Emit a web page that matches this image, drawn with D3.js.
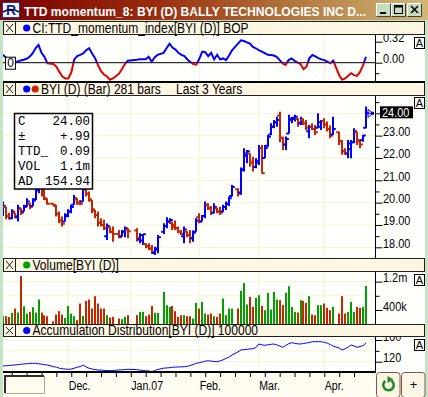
<!DOCTYPE html>
<html>
<head>
<meta charset="utf-8">
<script src="https://cdnjs.cloudflare.com/ajax/libs/d3/7.8.5/d3.min.js"></script>
<style>
  html, body { margin: 0; padding: 0; background: #c6e2c6; }
  svg { display: block; }
  text { font-family: "Liberation Sans", Arial, sans-serif; }
</style>
</head>
<body>
<svg width="428" height="397"></svg>
<script>
// ---- data (one value per trading day) ----
const startDate = "2006-11-01";
const endDate = "2007-04-20";
const holidays = ["2006-11-23", "2006-12-25", "2007-01-01", "2007-01-02",
  "2007-01-15", "2007-02-19", "2007-04-06"];

const openPx = [
  19.5,19.8,19.4,19.3,19.55,19.35,19.7,19.6,19.85,19.95,19.85,20.15,20.55,20.7,20.4,20.15,
  19.95,19.85,19.5,19.2,19.15,19.45,19.6,19.9,20.15,20.0,20.05,20.6,20.4,20.1,19.65,19.45,19.1,19.0,18.5,18.9,18.7,
  18.6,18.5,18.7,18.8,
  18.75,18.35,18.3,18.15,18.05,17.95,17.75,17.9,
  18.7,18.95,19.15,19.1,19.0,18.85,18.7,18.5,18.7,18.55,18.4,18.7,19.35,19.15,19.4,19.9,19.75,19.55,19.75,19.6,19.6,19.8,19.95,20.3,
  20.6,20.45,21.5,22.1,22.2,21.8,21.6,21.8,22.45,22.0,22.55,23.05,23.4,23.6,23.9,22.9,22.6,23.1,23.7,23.75,23.75,23.55,23.7,23.55,23.2,23.4,23.3,23.35,23.4,23.65,23.5,23.3,23.05,
  23.15,22.75,22.3,22.2,22.4,22.7,23.15,22.75,22.8,23.35
];
const highPx = [
  20.05,19.8,19.55,19.7,19.55,19.9,19.75,19.9,20.2,20.0,20.2,20.72,20.87,20.72,20.6,20.2,
  19.97,19.9,19.6,19.38,19.52,19.7,19.9,20.34,20.2,20.12,20.72,20.72,20.5,20.12,19.67,19.6,19.3,19.23,19.07,18.93,18.93,
  18.78,18.78,18.93,18.85,
  18.85,18.63,18.6,18.18,18.18,18.1,18.03,18.55,
  19.08,19.35,19.3,19.15,19.2,18.93,18.78,18.93,18.72,18.78,18.75,19.3,19.53,19.45,20.05,19.97,19.85,19.97,19.78,19.82,19.9,20.05,20.27,20.79,
  20.64,21.57,22.43,22.36,22.2,22.06,21.99,22.58,22.58,22.58,23.03,23.55,23.7,23.85,24.07,22.95,22.96,23.93,23.85,23.93,23.78,23.85,23.78,23.7,23.48,23.55,23.48,24.0,23.7,23.78,23.63,23.45,23.85,
  23.18,22.8,22.43,22.8,22.8,23.33,23.18,22.8,23.03,24.3
];
const lowPx = [
  19.4,19.26,19.25,19.26,19.3,19.15,19.45,19.6,19.82,19.7,19.85,20.12,20.42,20.27,20.12,19.9,
  19.88,19.38,19.08,18.93,19.15,19.35,19.52,19.9,19.9,19.88,20.05,20.27,20.05,19.52,19.3,18.93,18.93,18.78,18.33,18.63,18.25,
  18.4,18.48,18.45,18.4,
  18.26,18.18,18.1,17.96,17.88,17.7,17.66,17.73,
  18.6,18.85,19.05,18.78,18.78,18.63,18.55,18.18,18.45,18.18,18.25,18.7,19.08,19.15,19.3,19.67,19.45,19.52,19.52,19.45,19.58,19.67,19.85,20.27,
  20.27,20.35,21.39,21.76,21.61,21.39,21.54,21.69,21.3,21.99,22.5,23.03,23.33,23.4,22.7,22.36,22.36,23.1,23.55,23.63,23.4,23.48,23.48,23.25,22.88,23.25,23.03,23.33,23.25,23.33,23.18,22.88,23.03,
  22.58,22.14,22.14,21.99,21.99,22.66,22.58,22.43,22.73,23.33
];
const closePx = [
  19.85,19.4,19.3,19.6,19.4,19.75,19.55,19.8,20.05,19.8,20.1,20.6,20.75,20.4,20.2,19.95,
  19.9,19.5,19.2,19.05,19.4,19.6,19.8,20.2,20.0,19.95,20.6,20.4,20.15,19.7,19.45,19.1,19.0,18.85,18.95,18.7,18.6,
  18.45,18.7,18.85,18.72,
  18.4,18.55,18.58,18.05,17.95,17.8,17.95,18.45,
  18.95,19.15,19.22,18.9,18.85,18.7,18.6,18.8,18.55,18.4,18.65,19.2,19.15,19.4,19.9,19.75,19.55,19.8,19.6,19.55,19.8,19.95,20.2,20.7,
  20.4,21.45,22.2,22.3,21.8,21.6,21.85,22.45,21.32,22.45,22.95,23.4,23.6,23.7,22.9,22.6,22.85,23.75,23.8,23.85,23.55,23.7,23.55,23.35,23.4,23.3,23.15,23.6,23.65,23.5,23.3,23.0,23.3,
  22.75,22.3,22.2,22.65,22.7,23.2,22.8,22.6,23.01,24.0
];
// volume in thousands of shares
const volumeK = [
  225,225,200,320,441,329,1360,507,300,347,479,329,695,329,254,225,
  80,272,366,272,178,516,300,225,113,582,235,657,695,441,789,582,441,441,254,188,207,
  160,141,207,254,
  254,347,347,225,272,516,320,320,
  911,535,488,516,366,207,254,254,225,225,160,601,441,629,300,272,300,225,207,300,723,254,441,441,
  441,939,1160,554,770,488,742,817,516,394,883,413,911,695,676,535,883,1070,488,347,329,676,657,601,789,272,254,535,535,582,460,394,488,
  300,789,300,347,629,347,488,460,488,1080
];
const ttdMomentum = [
  0.12,0.08,0.05,0.03,0.015,0.02,0.035,0.045,0.06,0.09,0.14,0.22,0.27,0.15,0.09,-0.01,
  -0.02,-0.06,-0.14,-0.21,-0.24,-0.24,-0.15,0.05,0.1,0.12,0.14,0.19,0.22,0.14,0.07,-0.04,-0.13,-0.18,-0.21,-0.26,-0.24,
  -0.17,-0.1,-0.02,0.03,
  0.045,0.052,0.052,0.052,0.09,0.015,0.08,0.12,
  0.15,0.22,0.29,0.23,0.2,0.15,0.12,0.1,0.05,0.01,-0.02,-0.03,0.06,0.17,0.16,0.1,0.15,0.05,0.12,0.05,0.065,0.04,0.11,0.19,
  0.29,0.34,0.33,0.31,0.29,0.24,0.22,0.19,0.17,0.145,0.12,0.117,0.11,0.09,0.04,-0.01,-0.035,0.04,0.065,0.03,0,-0.02,-0.1,-0.06,0.07,0.117,0.095,0.07,0.05,0.04,0.015,-0.01,0.03,
  -0.19,-0.26,-0.24,-0.2,-0.16,-0.19,-0.2,-0.14,-0.04,0.09
];
const adLine = [
  112.1,112.5,113,113.4,114,114.5,115.2,115.8,116.3,116.8,117,117,116.2,115.5,114.5,113.9,
  110.8,110,108,107,106.5,106,106.5,108,110,110.8,113.9,110.5,107.8,106.5,105.5,104.7,104.5,104,103.6,103.4,103.8,
  104.7,105,105.5,106,
  105.5,104.5,104,103.4,103,101.6,103.5,105.5,
  108,108.5,109,109.7,110,110.3,110.5,110.8,111.5,113,115,117,118.2,119.5,121,121.8,121,120.5,120,121.5,123.5,126.2,128.5,132.3,
  138,141.6,142.2,142.8,143.5,144,146,152.6,151,150.2,151,152,152.6,151,149,146.5,150,153,155,154,153,152.6,153.5,154.5,155.5,156.9,157,156.9,156.9,155.5,154.1,151.5,148.9,
  145,141.6,144,147,150.8,149,146.5,148,149.5,154.94
];

const priceTicks = [18, 19, 20, 21, 22, 23, 24];
const momentumTicks = [-0.32, 0, 0.32];
const volumeTicks = [400000, 1200000];
const adTicks = [120, 160];
const monthStarts = ["2006-12-01", "2007-01-01", "2007-02-01", "2007-03-01", "2007-04-02"];
const monthNames = ["Dec.", "Jan.07", "Feb.", "Mar.", "Apr."];

// ---- calendar: every weekday gets a slot, holidays stay empty ----
const parse = d3.timeParse("%Y-%m-%d");
const fmt = d3.timeFormat("%Y-%m-%d");
const weekdays = d3.timeDay.range(parse(startDate), d3.timeDay.offset(parse(endDate), 1))
  .filter(d => d.getDay() % 6 !== 0)
  .map(fmt);
const tradingDays = weekdays.filter(d => !holidays.includes(d));
const mondays = weekdays.filter(d => parse(d).getDay() === 1);

let bars = tradingDays.map((d, i) => ({
  date: d,
  o: openPx[i], h: highPx[i], l: lowPx[i], c: closePx[i],
  v: volumeK[i] * 1000,
  m: ttdMomentum[i],
  ad: adLine[i],
  up: i === 0 ? closePx[i] >= openPx[i] : closePx[i] >= closePx[i - 1]
}));
let last = bars[bars.length - 1];
let prev = bars[bars.length - 2];

const svg = d3.select("svg");
const W = 428, H = 397;
const plotL = 3, axisX = 375, rightR = 424;

const pMom = { head: 21, top: 35, bottom: 82 };
const pPrice = { head: 82, top: 96, bottom: 258 };
const pVol = { head: 258, top: 272, bottom: 324 };
const pAd = { head: 324, top: 337, bottom: 372 };

const BLUE = "#0000ff", RED = "#c82400", GREEN = "#00a000", GRID = "#f8f0da";

let x = d3.scalePoint().domain(weekdays).range([2.8, 366]);
let yMom = d3.scaleLinear().domain([-0.32, 0.32]).range([83.7, 41.7]);
let yPrice = d3.scaleLinear().domain([18, 24]).range([247.3, 113.3]);
let yVol = d3.scaleLinear().domain([0, 1200000]).range([324.2, 281.6]);
let yAd = d3.scaleLinear().domain([120, 160]).range([361.7, 340]);

let defs = svg.append("defs");

// the original UI font is narrow: squeeze the installed sans to match
function condense(sel, k) {
  sel.each(function () {
    let w = this.getComputedTextLength();
    d3.select(this).attr("textLength", w * k).attr("lengthAdjust", "spacingAndGlyphs");
  });
}

// ---- window frame + title bar ----
svg.append("rect").attr("width", W).attr("height", H).attr("fill", "#c6e2c6");

let grad = defs.append("linearGradient").attr("id", "titleGrad");
grad.append("stop").attr("offset", "0%").attr("stop-color", "#7c0000");
grad.append("stop").attr("offset", "35%").attr("stop-color", "#982a0c");
grad.append("stop").attr("offset", "70%").attr("stop-color", "#b47a40");
grad.append("stop").attr("offset", "100%").attr("stop-color", "#d2b878");
svg.append("rect").attr("width", W).attr("height", 20).attr("fill", "url(#titleGrad)");

// app icon
svg.append("rect").attr("x", 2.5).attr("y", 2.5).attr("width", 17).attr("height", 15)
  .attr("fill", "#f4f4ff").attr("stroke", "#2038b0");
svg.append("text").attr("x", 11).attr("y", 15).attr("text-anchor", "middle")
  .style("font-weight", "bold").style("font-size", "14px")
  .attr("fill", "#10209a").text("R");
svg.append("path").attr("d", "M3,12 Q11,7 19,12").attr("fill", "none").attr("stroke", "#000").attr("stroke-width", 1.5);

svg.append("text").attr("x", 24).attr("y", 16)
  .style("font-weight", "bold").style("font-size", "13px")
  .attr("fill", "#fff")
  .text("TTD momentum_8: BYI (D) BALLY TECHNOLOGIES INC D...")
  .call(sel => sel.attr("textLength", 342).attr("lengthAdjust", "spacingAndGlyphs"));

// window buttons
[376, 391, 407].forEach((bx, i) => {
  let g = svg.append("g").attr("transform", `translate(${bx},3)`);
  g.append("rect").attr("width", 15).attr("height", 14).attr("fill", "#c8dcc0");
  g.append("path").attr("d", "M0.5,13.5 V0.5 H14.5").attr("fill", "none").attr("stroke", "#fff");
  g.append("path").attr("d", "M0.5,13.5 H14.5 V0.5").attr("fill", "none").attr("stroke", "#404040");
  if (i === 0) g.append("rect").attr("x", 4).attr("y", 9).attr("width", 6).attr("height", 2).attr("fill", "#000");
  if (i === 1) {
    g.append("rect").attr("x", 3.5).attr("y", 2.5).attr("width", 8).attr("height", 8).attr("fill", "none").attr("stroke", "#000");
    g.append("rect").attr("x", 3.5).attr("y", 2.5).attr("width", 8).attr("height", 2).attr("fill", "#000");
  }
  if (i === 2) g.append("path").attr("d", "M4,3 L11,10 M11,3 L4,10").attr("stroke", "#000").attr("stroke-width", 1.6);
});

// white area behind plots and right axes
svg.append("rect").attr("x", plotL).attr("y", 21).attr("width", rightR - plotL + 1).attr("height", 351).attr("fill", "#fffffc");
svg.append("rect").attr("x", plotL).attr("y", 372).attr("width", rightR - plotL + 1).attr("height", 25).attr("fill", "#fffcf2");

// ---- helpers ----
function clipFor(id, p) {
  defs.append("clipPath").attr("id", id)
    .append("rect").attr("x", plotL).attr("y", p.top).attr("width", axisX - plotL).attr("height", p.bottom - p.top);
  return `url(#${id})`;
}

function monthGrid(p) {
  svg.append("g").selectAll("line").data(monthStarts).join("line")
    .attr("x1", d => x(d)).attr("x2", d => x(d))
    .attr("y1", p.top).attr("y2", p.bottom)
    .attr("stroke", GRID);
}

function valueGrid(p, scale, values) {
  svg.append("g").selectAll("line").data(values).join("line")
    .attr("x1", plotL).attr("x2", axisX)
    .attr("y1", d => scale(d)).attr("y2", d => scale(d))
    .attr("stroke", GRID);
}

function header(p, dots, label, extra) {
  let g = svg.append("g").attr("transform", `translate(0,${p.head})`);
  let h = p.top - p.head;
  g.append("rect").attr("x", plotL + 0.5).attr("y", 0.5).attr("width", rightR - plotL).attr("height", h - 1)
    .attr("fill", "#fdf6e2").attr("stroke", "#202020");
  g.append("rect").attr("x", plotL + 0.5).attr("y", 0.5).attr("width", 12).attr("height", h - 1)
    .attr("fill", "#fdf6e2").attr("stroke", "#202020");
  g.append("path").attr("d", `M${plotL + 3},3 L${plotL + 10},${h - 3} M${plotL + 10},3 L${plotL + 3},${h - 3}`)
    .attr("stroke", "#000").attr("stroke-width", 0.9);
  dots.forEach((c, i) => {
    g.append("circle").attr("cx", 26.7 + i * 8.5).attr("cy", h / 2).attr("r", 3.6).attr("fill", c);
  });
  let tx = 24 + dots.length * 8.5;
  g.append("text").attr("x", tx).attr("y", h - 2.5).style("font-size", "14px").attr("fill", "#000").text(label)
    .call(condense, 0.86);
  if (extra) g.append("text").attr("x", 176).attr("y", h - 2.5).style("font-size", "14px").attr("fill", "#000").text(extra)
    .call(condense, 0.86);
}

function rightAxis(p, scale, major, minor, format, skipY) {
  svg.append("line").attr("x1", axisX + 0.5).attr("x2", axisX + 0.5).attr("y1", p.top).attr("y2", p.bottom)
    .attr("stroke", "#000");
  let gMinor = svg.append("g").attr("transform", `translate(${axisX + 0.5},0)`)
    .call(d3.axisRight(scale).tickValues(minor).tickSize(4).tickSizeOuter(0).tickFormat(""));
  gMinor.select(".domain").remove();
  let gMajor = svg.append("g").attr("transform", `translate(${axisX + 0.5},0)`)
    .call(d3.axisRight(scale).tickValues(major).tickSize(7).tickPadding(0).tickSizeOuter(0).tickFormat(format));
  gMajor.select(".domain").remove();
  gMajor.selectAll("text").attr("dy", "0").attr("x", 7.5)
    .style("font-size", "13px").attr("fill", "#000")
    .call(condense, 0.84);
  [gMinor, gMajor].forEach(g => {
    g.selectAll(".tick").filter(d => scale(d) < p.top || scale(d) > p.bottom).remove();
    g.selectAll("line").attr("stroke", "#000");
  });
  // the current value box replaces the label it would cover
  if (skipY !== undefined) gMajor.selectAll(".tick text").filter(d => Math.abs(scale(d) - skipY) < 8).remove();
}

function aBox(y) {
  svg.append("rect").attr("x", 414.5).attr("y", y + 0.5).attr("width", 10).attr("height", 11)
    .attr("fill", "#fffffc").attr("stroke", "#000");
  svg.append("text").attr("x", 419.5).attr("y", y + 10).attr("text-anchor", "middle")
    .style("font-size", "11px").text("A");
}

// ---- momentum panel ----
monthGrid(pMom);
let momClip = clipFor("clipMom", pMom);
let zeroY = yMom(0);
defs.append("clipPath").attr("id", "clipMomPos")
  .append("rect").attr("x", plotL).attr("y", pMom.top).attr("width", axisX - plotL).attr("height", zeroY - pMom.top);
defs.append("clipPath").attr("id", "clipMomNeg")
  .append("rect").attr("x", plotL).attr("y", zeroY).attr("width", axisX - plotL).attr("height", pMom.bottom - zeroY);

svg.append("line").attr("x1", plotL).attr("x2", axisX).attr("y1", zeroY).attr("y2", zeroY).attr("stroke", "#000");

let momLine = d3.line().x(d => x(d.date)).y(d => yMom(d.m));
let momG = svg.append("g").attr("clip-path", momClip);
momG.append("path").datum(bars).attr("d", momLine).attr("fill", "none")
  .attr("stroke", BLUE).attr("stroke-width", 2).attr("clip-path", "url(#clipMomPos)");
momG.append("path").datum(bars).attr("d", momLine).attr("fill", "none")
  .attr("stroke", "#e00000").attr("stroke-width", 2).attr("clip-path", "url(#clipMomNeg)");

// zero marker box on the left
svg.append("rect").attr("x", 5.5).attr("y", zeroY - 5.5).attr("width", 10).attr("height", 12)
  .attr("fill", "#fff").attr("stroke", "#000");
svg.append("text").attr("x", 10.5).attr("y", zeroY + 4.5).attr("text-anchor", "middle")
  .style("font-size", "12px").text("0");

rightAxis(pMom, yMom, momentumTicks, [-0.16, 0.16], d3.format(".2f"));
aBox(37);

// ---- price panel ----
monthGrid(pPrice);
valueGrid(pPrice, yPrice, priceTicks);
let priceG = svg.append("g").attr("clip-path", clipFor("clipPrice", pPrice));
priceG.selectAll("path").data(bars).join("path")
  .attr("d", d => {
    let cx = Math.round(x(d.date));
    return `M${cx},${yPrice(d.h)}V${yPrice(d.l)}M${cx - 2.8},${yPrice(d.o)}H${cx}M${cx},${yPrice(d.c)}H${cx + 2.8}`;
  })
  .attr("fill", "none")
  .attr("stroke", d => d.up ? BLUE : RED)
  .attr("stroke-width", 2);

// last price marker
let lastX = x(last.date), lastY = yPrice(last.c);
svg.append("path")
  .attr("d", `M${lastX},${lastY}H${axisX - 1}M${lastX + 2},${lastY - 4}L${lastX + 7},${lastY}L${lastX + 2},${lastY + 4}Z`)
  .attr("fill", "none").attr("stroke", BLUE).attr("stroke-width", 1);
svg.append("rect").attr("x", axisX - 4).attr("y", lastY - 1.5).attr("width", 3).attr("height", 3).attr("fill", BLUE);

rightAxis(pPrice, yPrice, priceTicks, d3.range(17.5, 24.6, 0.5).filter(v => v % 1 !== 0), d3.format(".2f"), lastY);

svg.append("rect").attr("x", 380).attr("y", lastY - 7).attr("width", 33).attr("height", 12).attr("fill", "#000");
svg.append("text").attr("x", 382).attr("y", lastY + 3.5)
  .style("font-size", "13px").attr("fill", "#fff").text(d3.format(".2f")(last.c))
  .call(condense, 0.84);
aBox(97);

// info box with the last bar's readings
let info = [
  ["C", d3.format(".2f")(last.c)],
  ["\u00b1", d3.format("+.2f")(last.c - prev.c).replace("0.", ".")],
  ["TTD_", d3.format(".2f")(last.m)],
  ["VOL", (last.v / 1e6).toFixed(1) + "m"],
  ["AD", d3.format(".2f")(last.ad)]
];
let infoG = svg.append("g");
infoG.append("rect").attr("x", 14.5).attr("y", 113.5).attr("width", 78).attr("height", 75.5)
  .attr("fill", "#fff").attr("stroke", "#000").attr("stroke-width", 1.5);
info.forEach((row, i) => {
  infoG.append("text").attr("x", 18).attr("y", 125 + i * 15)
    .style("font-family", "Liberation Mono").style("font-size", "12.5px").text(row[0]);
  infoG.append("text").attr("x", 90).attr("y", 125 + i * 15).attr("text-anchor", "end")
    .style("font-family", "Liberation Mono").style("font-size", "12.5px").text(row[1]);
});

// ---- volume panel ----
monthGrid(pVol);
valueGrid(pVol, yVol, [400000, 800000, 1200000]);
let volG = svg.append("g").attr("clip-path", clipFor("clipVol", pVol));
volG.selectAll("rect").data(bars).join("rect")
  .attr("x", d => Math.round(x(d.date)) - 1)
  .attr("width", 2)
  .attr("y", d => yVol(d.v))
  .attr("height", d => yVol(0) - yVol(d.v))
  .attr("fill", d => d.up ? GREEN : RED);
rightAxis(pVol, yVol, volumeTicks, [800000], d => d >= 1e6 ? (d / 1e6) + "m" : (d / 1e3) + "k");
aBox(274);

// ---- accumulation distribution panel ----
monthGrid(pAd);
valueGrid(pAd, yAd, [120, 140, 160]);
svg.append("g").attr("clip-path", clipFor("clipAd", pAd))
  .append("path").datum(bars)
  .attr("d", d3.line().x(d => x(d.date)).y(d => yAd(d.ad)))
  .attr("fill", "none").attr("stroke", BLUE).attr("stroke-width", 1);
rightAxis(pAd, yAd, adTicks, [140], d3.format("d"));
aBox(339);

// headers go over the plot edges
header(pMom, [BLUE], "CI:TTD_momentum_index[BYI (D)] BOP");
header(pPrice, [BLUE, RED], "BYI (D) (Bar) 281 bars", "Last 3 Years");
header(pVol, [GREEN], "Volume[BYI (D)]");
header(pAd, [BLUE], "Accumulation Distribution[BYI (D)] 100000");
svg.append("rect").attr("x", plotL).attr("y", 81).attr("width", rightR - plotL + 1).attr("height", 2).attr("fill", "#000");

// ---- time axis ----
svg.append("rect").attr("x", plotL).attr("y", 371).attr("width", axisX - plotL + 1).attr("height", 2).attr("fill", "#000");
let xTicks = svg.append("g").attr("transform", "translate(0,372)")
  .call(d3.axisBottom(x).tickValues(mondays).tickSize(5).tickSizeOuter(0).tickFormat(""));
xTicks.select(".domain").remove();
xTicks.selectAll("line").attr("stroke", "#000");

let xLabels = svg.append("g").attr("transform", "translate(0,372)")
  .call(d3.axisBottom(x).tickValues(monthStarts).tickSize(0).tickSizeOuter(0)
    .tickFormat(d => monthNames[monthStarts.indexOf(d)]));
xLabels.select(".domain").remove();
xLabels.selectAll("text").attr("text-anchor", "start").attr("y", 18).attr("dy", "0")
  .style("font-family", "Liberation Sans").style("font-size", "12px").attr("fill", "#000")
  .call(condense, 0.88);

// bottom-left entry field
svg.append("rect").attr("x", 4).attr("y", 375).attr("width", 41).attr("height", 19).attr("fill", "#fffbee");
svg.append("path").attr("d", "M5,393 V376 H44").attr("fill", "none").attr("stroke", "#303030").attr("stroke-width", 2);
svg.append("path").attr("d", "M44.5,376 V393.5 H5").attr("fill", "none").attr("stroke", "#b0a890");

// bottom-right buttons
[[376.5, "refresh"], [401.5, "plus"]].forEach(([bx, kind]) => {
  svg.append("rect").attr("x", bx).attr("y", 372.5).attr("width", 23.5).attr("height", 25).attr("rx", 3)
    .attr("fill", "#fcf6e6").attr("stroke", "#7a5a48");
  if (kind === "plus") {
    svg.append("text").attr("x", bx + 12).attr("y", 389).attr("text-anchor", "middle")
      .style("font-size", "13px").text("+");
  } else {
    let cx = bx + 12, cy = 385;
    svg.append("path").attr("d", d3.arc()({ innerRadius: 4, outerRadius: 6.5, startAngle: 0.6, endAngle: 5.6 }))
      .attr("transform", `translate(${cx},${cy})`).attr("fill", "#1c8a1c");
    svg.append("path").attr("d", `M${cx - 1},${cy - 9} L${cx + 5},${cy - 5.5} L${cx - 1},${cy - 2} Z`)
      .attr("fill", "#1c8a1c");
  }
});
</script>
</body>
</html>
